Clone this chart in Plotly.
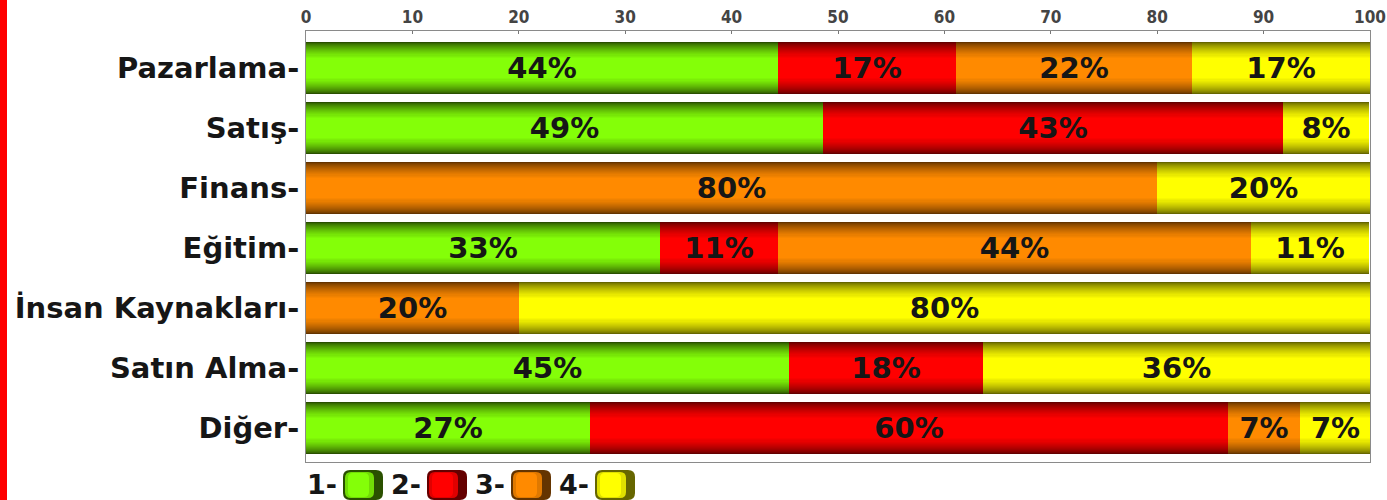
import plotly.graph_objects as go

# ---------------- data ----------------
categories = ["Pazarlama", "Satış", "Finans", "Eğitim", "İnsan Kaynakları", "Satın Alma", "Diğer"]
legend_labels = ["1-", "2-", "3-", "4-"]
s1 = [44.4, 48.6, 0.0, 33.3, 0.0, 45.4, 26.7]
s2 = [16.7, 43.2, 0.0, 11.1, 0.0, 18.2, 60.0]
s3 = [22.2, 0.0, 80.0, 44.4, 20.0, 0.0, 6.7]
s4 = [16.7, 8.1, 20.0, 11.1, 80.0, 36.4, 6.7]
x_tick_vals = [0, 10, 20, 30, 40, 50, 60, 70, 80, 90, 100]

series = [s1, s2, s3, s4]
bright = ["#84ff08", "#ff0000", "#ff8a00", "#ffff00"]
dark = ["#2a5000", "#640000", "#643400", "#666600"]

# ---------------- layout geometry (pixels) ----------------
W, H = 1387, 500
ML, MR, MT, MB = 306, 17, 31, 38
PW = W - ML - MR
PH = H - MT - MB


def px2x(px):
    return (px - ML) / PW


def px2y(py):
    return (H - MB - py) / PH


def hex2rgb(h):
    h = h.lstrip("#")
    return tuple(int(h[i:i + 2], 16) for i in (0, 2, 4))


def mix(c1, c2, t):
    a, b = hex2rgb(c1), hex2rgb(c2)
    return "rgb(%d,%d,%d)" % tuple(round(a[i] + (b[i] - a[i]) * t) for i in range(3))


ypos = list(range(len(categories)))
bar_w = 0.867
N_LAYERS = 16

fig = go.Figure()

base = [0.0] * len(categories)
for si, vals in enumerate(series):
    texts = [f"{v:.0f}%" if v > 0 else "" for v in vals]
    for k in range(N_LAYERS):
        t = k / (N_LAYERS - 1)
        frac = 1.0 - 0.6 * t
        col = mix(dark[si], bright[si], t ** 0.7)
        last = k == N_LAYERS - 1
        fig.add_trace(go.Bar(
            y=ypos, x=vals, base=base, orientation="h",
            width=bar_w * frac,
            marker=dict(color=col, line=dict(width=0)),
            text=texts if last else None,
            textposition="inside" if last else "none",
            insidetextanchor="middle",
            constraintext="none",
            textangle=0,
            textfont=dict(family="DejaVu Sans", size=29, color="#161616", weight="bold"),
            showlegend=False, hoverinfo="skip",
        ))
    base = [b + v for b, v in zip(base, vals)]

shapes = []
annotations = []

# red band at the left edge
shapes.append(dict(type="rect", xref="paper", yref="paper",
                   x0=px2x(0), x1=px2x(7), y0=px2y(0), y1=px2y(H),
                   fillcolor="#ff0000", line=dict(width=0), layer="above"))


def rounded_path(x0p, y0p, x1p, y1p, r):
    X = px2x
    Y = px2y
    return (f"M {X(x0p + r)},{Y(y0p)} L {X(x1p - r)},{Y(y0p)} "
            f"Q {X(x1p)},{Y(y0p)} {X(x1p)},{Y(y0p + r)} "
            f"L {X(x1p)},{Y(y1p - r)} Q {X(x1p)},{Y(y1p)} {X(x1p - r)},{Y(y1p)} "
            f"L {X(x0p + r)},{Y(y1p)} Q {X(x0p)},{Y(y1p)} {X(x0p)},{Y(y1p - r)} "
            f"L {X(x0p)},{Y(y0p + r)} Q {X(x0p)},{Y(y0p)} {X(x0p + r)},{Y(y0p)} Z")


# custom legend: text then cylinder icon
for i, lab in enumerate(legend_labels):
    tx = 305 + i * 84
    annotations.append(dict(xref="paper", yref="paper", x=px2x(tx), y=px2y(485),
                            xanchor="left", yanchor="middle", showarrow=False,
                            text=lab,
                            font=dict(family="DejaVu Sans", size=27, color="#161616", weight="bold")))
    ix0, ix1 = tx + 38, tx + 78
    iy0, iy1 = 470, 500
    shapes.append(dict(type="path", xref="paper", yref="paper",
                       path=rounded_path(ix0, iy0, ix1, iy1, 7),
                       fillcolor=dark[i], line=dict(width=0), layer="above"))
    shapes.append(dict(type="path", xref="paper", yref="paper",
                       path=rounded_path(ix0 + 2, iy0 + 2, ix1 - 9, iy1 - 2, 6),
                       fillcolor=mix(dark[i], bright[i], 0.8), line=dict(width=0), layer="above"))
    shapes.append(dict(type="path", xref="paper", yref="paper",
                       path=rounded_path(ix0 + 5, iy0 + 3, ix1 - 14, iy1 - 3, 5),
                       fillcolor=bright[i], line=dict(width=0), layer="above"))

fig.update_layout(
    width=W, height=H,
    margin=dict(l=ML, r=MR, t=MT, b=MB, pad=0, autoexpand=False),
    barmode="overlay",
    bargap=0,
    paper_bgcolor="white",
    plot_bgcolor="white",
    shapes=shapes,
    annotations=annotations,
    xaxis=dict(
        side="top", range=[0, 100], tickvals=x_tick_vals,
        ticktext=[str(v) for v in x_tick_vals],
        ticks="inside", ticklen=3, tickcolor="#777",
        showgrid=False, zeroline=False, automargin=False,
        showline=True, mirror=True, linecolor="#8a8a8a", linewidth=1,
        tickfont=dict(family="DejaVu Sans Condensed", size=17, color="#444", weight="bold"),
        fixedrange=True,
    ),
    yaxis=dict(
        range=[6.567, -0.617], tickvals=ypos,
        ticktext=[c + "-" for c in categories],
        ticks="", showgrid=False, zeroline=False, automargin=False,
        showline=True, mirror=True, linecolor="#8a8a8a", linewidth=1,
        tickfont=dict(family="DejaVu Sans", size=29, color="#161616", weight="bold"),
        ticklabelstandoff=0,
        fixedrange=True,
    ),
)

fig.write_html(
    "out.html",
    config={"displayModeBar": False},
    post_script="document.body.style.margin='0';document.body.style.overflow='hidden';",
)
